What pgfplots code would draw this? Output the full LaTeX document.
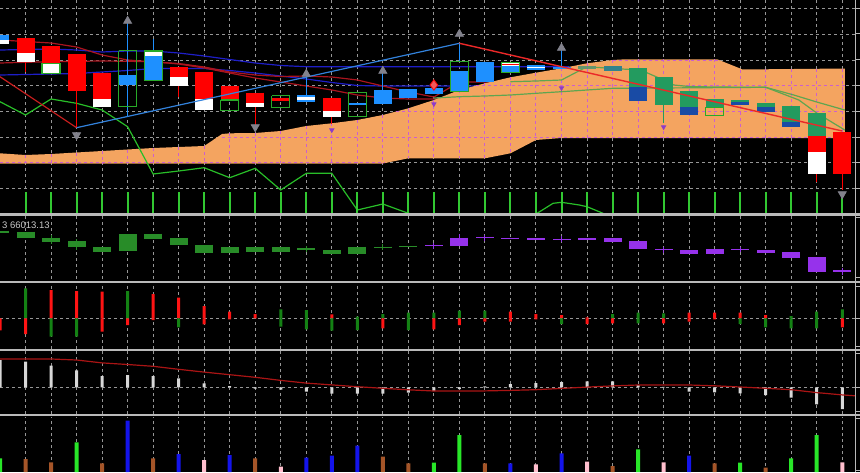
\documentclass[border=0pt]{standalone}
\usepackage{pgfplots}
\pgfplotsset{compat=1.18}
\usepackage{fontspec}
\setmainfont{Liberation Sans}
\definecolor{gridc}{RGB}{150,150,150}
\definecolor{magc}{RGB}{205,95,205}
\definecolor{cloud}{RGB}{244,164,96}
\definecolor{lblue}{RGB}{30,144,255}
\definecolor{sgreen}{RGB}{35,155,95}
\definecolor{dblue}{RGB}{25,75,165}
\definecolor{ogreen}{RGB}{40,170,40}
\definecolor{mablue}{RGB}{30,30,200}
\definecolor{mared}{RGB}{170,20,30}
\definecolor{zzred}{RGB}{200,30,30}
\definecolor{zzblue}{RGB}{50,130,220}
\definecolor{zzred2}{RGB}{235,40,40}
\definecolor{chik}{RGB}{40,190,40}
\definecolor{kij}{RGB}{95,165,80}
\definecolor{arrowgray}{RGB}{130,130,140}
\definecolor{purparrow}{RGB}{140,60,200}
\definecolor{volg}{RGB}{50,200,50}
\definecolor{ptwogreen}{RGB}{40,140,40}
\definecolor{purp}{RGB}{150,50,235}
\definecolor{hred}{RGB}{255,20,20}
\definecolor{hgreen}{RGB}{20,130,20}
\definecolor{barw}{RGB}{215,215,215}
\definecolor{linered}{RGB}{170,20,20}
\definecolor{vbrown}{RGB}{165,85,40}
\definecolor{vlime}{RGB}{40,230,40}
\definecolor{vblue}{RGB}{20,20,235}
\definecolor{vpink}{RGB}{255,190,205}
\definecolor{sepc}{RGB}{185,185,185}
\definecolor{txtc}{RGB}{200,200,200}
\definecolor{c23}{RGB}{100,150,110}
\definecolor{c24}{RGB}{50,130,140}
\definecolor{diam}{RGB}{240,90,90}
\pgfplotsset{
  panel/.style={scale only axis, width=427.5pt, xmin=0, xmax=33.5,
    xtick={1,...,33}, xticklabels={}, yticklabels={},
    axis line style={draw=none}, tick style={draw=none},
    xmajorgrids, major grid style={gridc, line width=0.5pt, dash pattern=on 1.5pt off 1.5pt},
    anchor=south west, clip=true},
  hb/.style={ybar, bar shift=0pt, draw=none},
}
\begin{document}
\begin{tikzpicture}
\fill[black] (0,0) rectangle (430pt,236pt);

% ================= main panel =================
\begin{axis}[panel, at={(0pt,129.5pt)}, height=106.5pt, ymin=0, ymax=213, y dir=reverse,
  ytick={8.3,34,60,85.7,111.5,137.3,162.7,188.5}, ymajorgrids]
\addplot[mablue, line width=0.6pt] coordinates {(0,50)(1,49.5)(2,49)(3,50)(4,52)(5,51)(6,51)(7,53)(8,56)(9,59.5)(10,63)(11,65.5)(12,66.7)(22.3,66.7)};
\addplot[mablue, line width=0.6pt] coordinates {(0,75)(1,74.5)(2,74)(3,73.5)(4,72)(5,70.5)(6,68.5)(8,68.5)(9,70.5)(10,73)(11,76)(12,79)(13,82.5)(14,85.5)(15,86)(24,86)};
\addplot[mared, line width=0.6pt] coordinates {(0,40)(1,41.5)(2,43)(3,47)(4,55)(5,60)(6,62)(7,63.5)(8,67)(9,72)(10,75)(11,76.5)(12,76)(13,77)(14,80)(15,86)(16,92)(17,97)(18,82)(22,81.7)(24,82)};
\addplot[mared, line width=0.6pt] coordinates {(0,63)(1,62.3)(2,61.7)(3,61.3)(4,61)(5,61.3)(6,61.7)(7,64)(8,68)(9,73)(10,78)(11,82)(12,86)(13,90)(14,95)(15,98)(16,99)(17,99)(18,97)(20,96)};
\addplot[fill=cloud, draw=none] coordinates {(0,153.3)(1,155)(2,154)(3,152.5)(4,151)(5,149.5)(6,148)(7,147)(8,146)(8.7,134)(9,133.3)(10,133)(11,131)(12,126)(13,123.3)(14,120)(15,115)(16,108.3)(17,100)(18,90)(19,83.3)(20,77.3)(21,72.7)(22,68.3)(23,63.3)(24,60)(24.5,59.3)(28.1,59.3)(29.1,69.5)(33.1,68.5)(33.1,138)(22,138)(21,140)(20,153.3)(19,158.3)(16,158.3)(15,163.5)(0,163.5)} -- cycle;
\addplot[magc, line width=0.5pt, dash pattern=on 1.5pt off 1.5pt, unbounded coords=jump] coordinates {
(1,155)(1,163.3)(1,nan)(2,154)(2,163.3)(2,nan)(3,152.5)(3,163.3)(3,nan)(4,151)(4,163.3)(4,nan)
(5,149.5)(5,163.3)(5,nan)(6,148)(6,163.3)(6,nan)(7,147)(7,163.3)(7,nan)(8,146)(8,163.3)(8,nan)
(9,133.3)(9,163.3)(9,nan)(10,133)(10,163.3)(10,nan)(11,131)(11,163.3)(11,nan)(12,126)(12,163.3)(12,nan)
(13,123.3)(13,163.3)(13,nan)(14,120)(14,163.3)(14,nan)(15,115)(15,163.3)(15,nan)(16,108.3)(16,158.3)(16,nan)
(17,100)(17,158.3)(17,nan)(18,90)(18,158.3)(18,nan)(19,83.3)(19,158.3)(19,nan)(20,77.3)(20,153.3)(20,nan)
(21,72.7)(21,140)(21,nan)(22,68.3)(22,138)(22,nan)(23,63.3)(23,138)(23,nan)(24,60)(24,138)(24,nan)
(25,59.3)(25,138)(25,nan)(26,59.3)(26,138)(26,nan)(27,59.3)(27,138)(27,nan)(28,59.3)(28,138)(28,nan)
(29,69.5)(29,138)(29,nan)(30,69.2)(30,138)(30,nan)(31,69)(31,138)(31,nan)(32,68.7)(32,138)(32,nan)(33,68.5)(33,138)(33,nan)
(0,162.7)(15.1,162.7)(0,nan)(8.69,137.3)(33.1,137.3)(0,nan)(15.52,111.5)(33.1,111.5)(0,nan)(18.64,85.7)(33.1,85.7)(0,nan)(24,60)(28.17,60)};
\addplot[chik, line width=0.6pt] coordinates {(0,101.7)(1,115)(2,99)(3,103.3)(4,110)(5,126.7)(6,174)(7,171)(8,167.7)(9,177.7)(10,168.3)(11,190)(12,173.3)(13,173.3)(14,210)(15,204)(16,213.3)(17,218)(20,218)(21,214)(21.67,203.3)(22,202.3)(22.7,205)(23,206.7)(23.6,213)(24,218)};
\addplot[kij, line width=0.6pt] coordinates {(20,81.7)(21,81)(22,80)(23,66.7)(24,68.5)(25.1,70)(26,80)(26.4,85)(27,86.5)(28,87)(30,87.3)(31.1,95)(32,102)(33.1,110)};
\addplot[kij, line width=0.6pt] coordinates {(17,98)(18,96.7)(19,96)(20,95)(21,93.3)(22,91.7)(24,88.3)(30,87.3)(31.3,100)(32,113)(33.1,130)};
\addplot[red, line width=0.5pt, unbounded coords=jump] coordinates {(1,61.7)(1,72)(1,nan)(3,90.7)(3,127.7)(3,nan)(7,86)(7,96.7)(7,nan)(10,107.3)(10,125)(10,nan)(13,116.7)(13,124)(13,nan)(32,174)(32,181.7)(32,nan)(33,174)(33,190)};
\addplot[lblue, line width=0.5pt, unbounded coords=jump] coordinates {(5,20)(5,116.7)(5,nan)(6,39.3)(6,51)(6,nan)(12,74)(12,95.3)(12,nan)(15,70)(15,90)(15,nan)(18,43)(18,61.7)(18,nan)(22,47.7)(22,67.3)};
\addplot[sgreen, line width=0.5pt] coordinates {(26,105.3)(26,123)};
\addplot[red, line width=9pt, unbounded coords=jump] coordinates {(1,38.3)(1,52.7)(1,nan)(2,45.7)(2,63.3)(2,nan)(3,54.3)(3,90.7)(3,nan)(4,72.7)(4,99)(4,nan)(7,66.7)(7,77.3)(7,nan)(8,71.7)(8,99.3)(8,nan)(9,86)(9,100)(9,nan)(10,92.7)(10,103.3)(10,nan)(11,97.7)(11,101)(11,nan)(13,98.3)(13,111)(13,nan)(32,136)(32,151.7)(32,nan)(33,132)(33,174)};
\addplot[white, line width=9pt, unbounded coords=jump] coordinates {(0,40)(0,44)(0,nan)(1,52.7)(1,61.7)(1,nan)(2,63.3)(2,73.3)(2,nan)(4,99)(4,106.7)(4,nan)(6,51)(6,55.7)(6,nan)(7,77.3)(7,86)(7,nan)(8,99.3)(8,110)(8,nan)(10,103.3)(10,107.3)(10,nan)(12,97.3)(12,99.5)(12,nan)(13,111)(13,116.7)(13,nan)(20,63)(20,66)(20,nan)(21,66.7)(21,68.3)(21,nan)(32,151.7)(32,174)};
\addplot[lblue, line width=9pt, unbounded coords=jump] coordinates {(0,35)(0,40)(0,nan)(5,75.3)(5,85.3)(5,nan)(6,55.7)(6,80.7)(6,nan)(12,95.3)(12,97.3)(12,nan)(12,99.5)(12,101.7)(12,nan)(14,103)(14,105)(14,nan)(15,90)(15,104)(15,nan)(16,89.3)(16,97.7)(16,nan)(17,88.3)(17,94.3)(17,nan)(18,71)(18,91.7)(18,nan)(19,61.7)(19,81.7)(19,nan)(20,66)(20,72.7)(20,nan)(21,65.3)(21,66.7)(21,nan)(21,68.3)(21,70)(21,nan)(22,67.3)(22,69)};
\addplot[red, line width=9pt] coordinates {(20,63.6)(20,64.8)};
\addplot[sgreen, line width=9pt, unbounded coords=jump] coordinates {(25,68.3)(25,87.3)(25,nan)(26,77.3)(26,105.3)(26,nan)(27,91)(27,107.3)(27,nan)(28,99.3)(28,107.3)(28,nan)(29,100)(29,101.5)(29,nan)(30,102.7)(30,106.7)(30,nan)(31,106)(31,121.7)(31,nan)(32,113.3)(32,136)};
\addplot[dblue, line width=9pt, unbounded coords=jump] coordinates {(25,87.3)(25,100.7)(25,nan)(27,107.3)(27,115.3)(27,nan)(29,101.5)(29,105.3)(29,nan)(30,106.7)(30,111.7)(30,nan)(31,121.7)(31,127.3)};
\addplot[c23, line width=9pt] coordinates {(23,66)(23,69)};
\addplot[c24, line width=9pt] coordinates {(24,66)(24,71)};
\addplot[ogreen, line width=0.6pt, unbounded coords=jump] coordinates {
(1.647,63.3)(2.353,63.3)(2.353,73.3)(1.647,73.3)(1.647,63.3)(0,nan)
(4.647,50.7)(5.353,50.7)(5.353,106.7)(4.647,106.7)(4.647,50.7)(0,nan)
(5.647,51)(6.353,51)(6.353,80.7)(5.647,80.7)(5.647,51)(0,nan)
(8.647,100)(9.353,100)(9.353,110.7)(8.647,110.7)(8.647,100)(0,nan)
(10.647,95.7)(11.353,95.7)(11.353,107.3)(10.647,107.3)(10.647,95.7)(0,nan)
(13.647,92.3)(14.353,92.3)(14.353,116.7)(13.647,116.7)(13.647,92.3)(0,nan)
(17.647,61.7)(18.353,61.7)(18.353,91.7)(17.647,91.7)(17.647,61.7)(0,nan)
(19.647,62.3)(20.353,62.3)(20.353,72.7)(19.647,72.7)(19.647,62.3)(0,nan)
(27.647,107.3)(28.353,107.3)(28.353,115.3)(27.647,115.3)(27.647,107.3)};
\addplot[zzred, line width=0.6pt] coordinates {(0,76.7)(3,127.7)};
\addplot[zzblue, line width=0.6pt] coordinates {(3,127.7)(18,43.3)};
\addplot[zzred2, line width=0.7pt] coordinates {(18,43.3)(33,131)};
\addplot[only marks, mark=triangle*, mark size=2.3pt, mark options={fill=arrowgray, draw=arrowgray}] coordinates {(5,21)(12,74)(15,71)(18,34)(22,48)};
\addplot[only marks, mark=triangle*, mark size=2.3pt, mark options={rotate=180, fill=arrowgray, draw=arrowgray}] coordinates {(3,135)(10,127)(33,194)};
\addplot[only marks, mark=triangle*, mark size=1.2pt, mark options={rotate=180, fill=purparrow, draw=purparrow}] coordinates {(13,130)(17,104)(22,88)(26,127)};
\addplot[only marks, mark=diamond*, mark size=2.6pt, mark options={fill=diam, draw=red}] coordinates {(17,85)};
\addplot[volg, line width=1pt, unbounded coords=jump] coordinates {
(1,192)(1,213)(1,nan)(2,192)(2,213)(2,nan)(3,192)(3,213)(3,nan)(4,192)(4,213)(4,nan)(5,192)(5,213)(5,nan)
(6,192)(6,213)(6,nan)(7,192)(7,213)(7,nan)(8,192)(8,213)(8,nan)(9,192)(9,213)(9,nan)(10,192)(10,213)(10,nan)
(11,192)(11,213)(11,nan)(12,192)(12,213)(12,nan)(13,192)(13,213)(13,nan)(14,192)(14,213)(14,nan)(15,192)(15,213)(15,nan)
(16,192)(16,213)(16,nan)(17,192)(17,213)(17,nan)(18,192)(18,213)(18,nan)(19,192)(19,213)(19,nan)(20,192)(20,213)(20,nan)
(21,192)(21,213)(21,nan)(22,192)(22,213)(22,nan)(23,192)(23,213)(23,nan)(24,192)(24,213)(24,nan)(25,192)(25,213)(25,nan)
(26,192)(26,213)(26,nan)(27,192)(27,213)(27,nan)(28,192)(28,213)(28,nan)(29,192)(29,213)(29,nan)(30,192)(30,213)(30,nan)
(31,192)(31,213)(31,nan)(32,192)(32,213)(32,nan)(33,192)(33,213)};
\end{axis}

% ================= panel 2 =================
\begin{axis}[panel, at={(0pt,95.75pt)}, height=32.25pt, ymin=216, ymax=280.5, y dir=reverse, ytick=\empty]
\addplot[ptwogreen, line width=0.5pt, unbounded coords=jump] coordinates {(2,235)(2,243.5)(2,nan)(3,239)(3,250)(3,nan)(12,246)(12,252)(12,nan)(15,244)(15,249.5)};
\addplot[purp, line width=0.5pt, unbounded coords=jump] coordinates {(17,243)(17,249)(17,nan)(18,234)(18,246)(18,nan)(19,235)(19,240.5)(19,nan)(22,236)(22,242)(22,nan)(26,247)(26,252.5)(26,nan)(29,247)(29,252)(29,nan)(33,268)(33,275)};
\addplot[ptwogreen, line width=9pt, unbounded coords=jump] coordinates {
(0,230.5)(0,232.5)(0,nan)(1,231.7)(1,238.3)(1,nan)(2,237.7)(2,241.7)(2,nan)(3,241)(3,247)(3,nan)
(4,246.7)(4,252)(4,nan)(5,234.3)(5,251)(5,nan)(6,233.7)(6,239)(6,nan)(7,238.3)(7,245.3)(7,nan)
(8,244.7)(8,252.7)(8,nan)(9,247.3)(9,252.7)(9,nan)(10,247.3)(10,252)(10,nan)(11,247.3)(11,252)(11,nan)
(12,248)(12,250)(12,nan)(13,250)(13,254)(13,nan)(14,246.7)(14,254.3)(14,nan)(15,246.5)(15,247.5)(15,nan)(16,246)(16,247.2)};
\addplot[purp, line width=9pt, unbounded coords=jump] coordinates {
(17,245.3)(17,246.3)(17,nan)(18,237.7)(18,246)(18,nan)(19,237.3)(19,238.3)(19,nan)(20,237.7)(20,239.3)(20,nan)
(21,238.3)(21,240)(21,nan)(22,238.5)(22,239.5)(22,nan)(23,238.3)(23,239.7)(23,nan)(24,238.3)(24,241.7)(24,nan)
(25,241)(25,249.3)(25,nan)(26,249.3)(26,250.3)(26,nan)(27,250)(27,254.3)(27,nan)(28,249)(28,254.3)(28,nan)
(29,249)(29,250)(29,nan)(30,250)(30,252.7)(30,nan)(31,252)(31,257.7)(31,nan)(32,257)(32,271.7)(32,nan)(33,270)(33,271.7)};
\end{axis}
\node[anchor=base west, inner sep=0pt, text=txtc, font=\fontsize{4.75pt}{5pt}\selectfont] at (0.85pt,121.85pt) {3 66013.13};

% ================= panel 3 =================
\begin{axis}[panel, at={(0pt,61.75pt)}, height=32.75pt, ymin=-30.2, ymax=35.3, ytick={0}, ymajorgrids]
\addplot[hb, bar width=1.5pt, fill=hred] coordinates {(2,28.3)(3,27.3)(4,26.6)(6,24.3)(7,20.6)(8,12.3)(9,6.6)(10,4.3)(13,4)(20,6.6)(21,4.3)(22,3.3)(23,1)(27,5.6)(28,5.6)(29,5.6)(30,3.3)};
\addplot[hb, bar width=1.5pt, fill=hgreen] coordinates {(1,30)(5,27.3)(11,9)(12,8.3)(14,1.6)(15,4.3)(16,5.6)(17,5.6)(18,7.6)(19,7.6)(24,4.3)(25,5.6)(26,5)(31,2.3)(32,6.6)(33,9)};
\addplot[hb, bar width=1.5pt, fill=hred] coordinates {(0,-12)(1,-15.7)(4,-13.4)(5,-6.7)(6,-1.7)(8,-6)(9,-1)(15,-10)(17,-11)(18,-6.7)(19,-3.4)(20,-3.4)(21,-1)(23,-5.7)(24,-5)(26,-5)(27,-3.4)(28,-1)(33,-9)};
\addplot[hb, bar width=1.5pt, fill=hgreen] coordinates {(2,-18.4)(3,-18.4)(7,-9)(11,-8.4)(12,-11)(13,-12.4)(14,-11.7)(16,-11.7)(22,-5.7)(25,-5)(29,-5.7)(30,-9)(31,-10)(32,-10)};
\end{axis}

% ================= panel 4 =================
\begin{axis}[panel, at={(0pt,29pt)}, height=31.5pt, ymin=-26.7, ymax=36.3, ytick={0}, ymajorgrids]
\addplot[hb, bar width=1.5pt, fill=barw] coordinates {(0,27.3)(1,25.6)(2,21.6)(3,17)(4,11.3)(5,12.3)(6,11.3)(7,9)(8,4)(9,1.3)(10,-1.4)(11,-2.4)(12,-4.4)(13,-6.4)(14,-6.4)(15,-6.4)(16,-5.4)(17,-3.7)(18,-1.7)(19,1)(20,3.3)(21,4.3)(22,5.3)(23,6)(24,6)(25,2.3)(26,0.5)(27,-4.4)(28,-5)(29,-6)(30,-7.7)(31,-10.4)(32,-17)(33,-21.7)};
\addplot[linered, line width=0.6pt] coordinates {(0,28.3)(1,28.3)(2,28.3)(3,27.3)(4,24.4)(5,22.8)(6,21)(7,18)(8,15.2)(9,12.6)(10,10)(11,6.9)(12,4.2)(13,2.4)(14,0.6)(15,-1)(16,-2.5)(17,-3.7)(18,-3.7)(19,-3.6)(20,-3.1)(21,-2.4)(22,-1.1)(23,0.2)(24,1.4)(25,2.3)(26,2.3)(27,2.3)(28,1.5)(29,0.3)(30,-1)(31,-2.4)(32,-5.3)(33,-7.6)(33.5,-8.5)};
\end{axis}

% ================= panel 5 =================
\begin{axis}[panel, at={(0pt,0pt)}, height=27.75pt, ymin=0, ymax=55.5, ytick=\empty]
\addplot[hb, bar width=2pt, fill=vbrown] coordinates {(1,13)(2,9.7)(4,8.7)(6,13.7)(10,13.7)(15,15.3)(16,8.7)(19,8.7)(24,6)(28,8.7)(30,4.3)};
\addplot[hb, bar width=2pt, fill=vlime] coordinates {(0,13.7)(3,29.7)(17,9.3)(18,37)(25,22.7)(29,9.3)(31,13.7)(32,37)};
\addplot[hb, bar width=2pt, fill=vblue] coordinates {(5,51.3)(7,18)(9,17)(12,14.3)(13,16.3)(14,26.3)(20,8.7)(22,18.7)(27,16.3)};
\addplot[hb, bar width=2pt, fill=vpink] coordinates {(8,12)(11,5.3)(21,7.7)(23,10.3)(26,9.7)(33,9.7)};
\end{axis}

\foreach \p in {214.5,281.7,349.7,415.3} {\draw[sepc, line width=1.1pt] (0pt,236pt-\p*0.5pt) -- (430pt,236pt-\p*0.5pt);}
\draw[sepc, line width=0.5pt] (427.6pt,0pt) -- (427.6pt,236pt);
\foreach \p in {8.3,34,60,85.7,111.5,137.3,162.7,188.5,217,277,286,318.3,346,353,387.3,411,418,470} {\draw[sepc, line width=0.5pt] (427.6pt,236pt-\p*0.5pt) -- (430pt,236pt-\p*0.5pt);}
\pgfresetboundingbox
\path[use as bounding box] (0pt,0pt) rectangle (430pt,236pt);
\end{tikzpicture}
\end{document}
